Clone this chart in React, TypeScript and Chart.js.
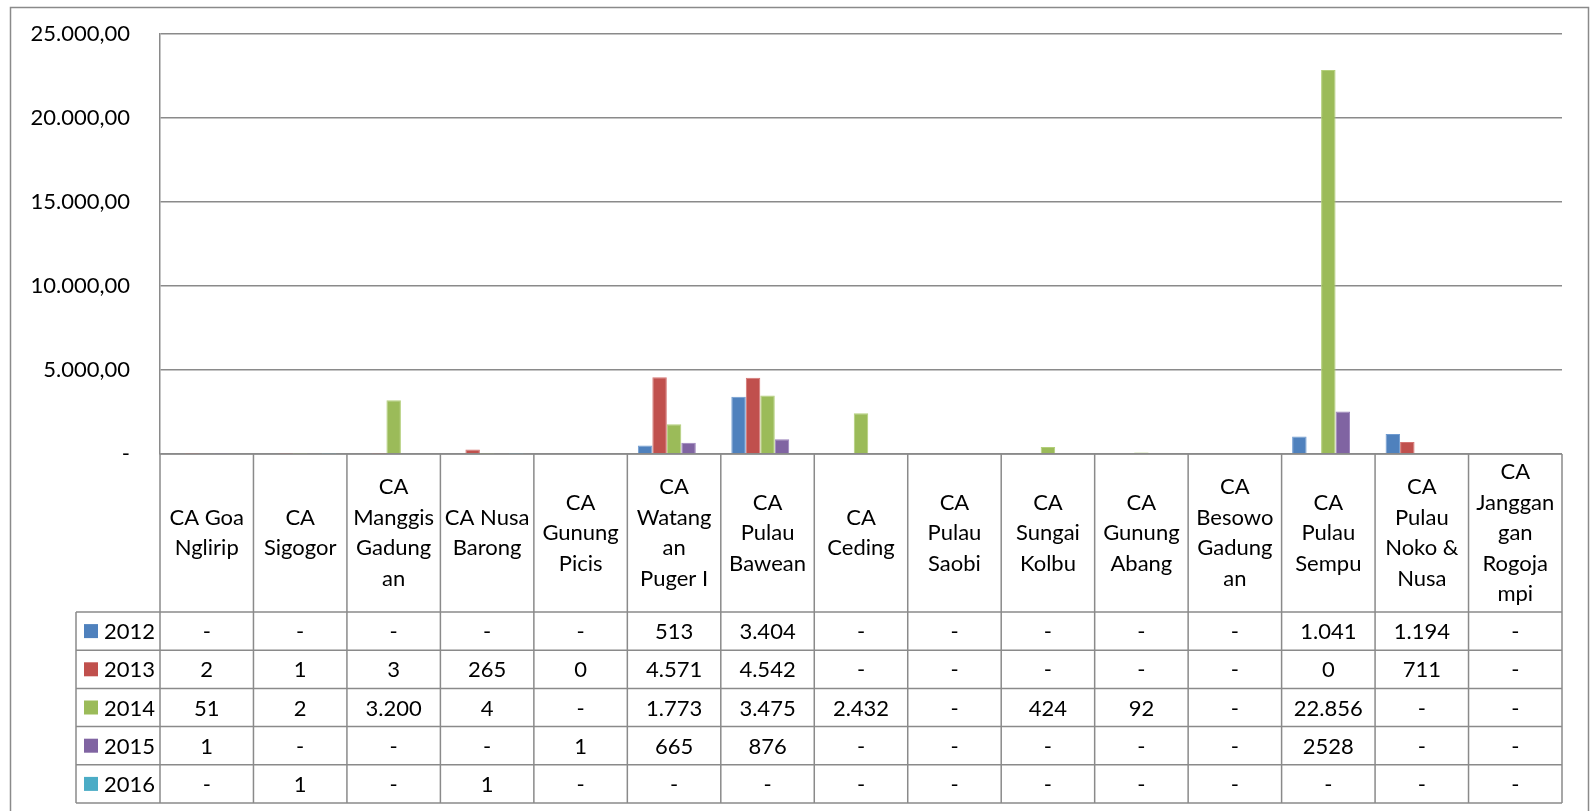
import React, { useEffect, useRef } from "react";
import { Chart, registerables } from "chart.js";

Chart.register(...registerables);

const FONT = "Lato, 'Open Sans', sans-serif";

const categories: string[][] = [
  ["CA Goa", "Nglirip"],
  ["CA", "Sigogor"],
  ["CA", "Manggis", "Gadung", "an"],
  ["CA Nusa", "Barong"],
  ["CA", "Gunung", "Picis"],
  ["CA", "Watang", "an", "Puger I"],
  ["CA", "Pulau", "Bawean"],
  ["CA", "Ceding"],
  ["CA", "Pulau", "Saobi"],
  ["CA", "Sungai", "Kolbu"],
  ["CA", "Gunung", "Abang"],
  ["CA", "Besowo", "Gadung", "an"],
  ["CA", "Pulau", "Sempu"],
  ["CA", "Pulau", "Noko &", "Nusa"],
  ["CA", "Janggan", "gan", "Rogoja", "mpi"],
];

const years = ["2012", "2013", "2014", "2015", "2016"];
const colors = ["#4F81BD", "#C0504D", "#9BBB59", "#8064A2", "#4BACC6"];
const borders = ["#6f9bd0", "#d47472", "#b3cf7a", "#9a82bb", "#70c3da"];

const v2012 = [null, null, null, null, null, 513, 3404, null, null, null, null, null, 1041, 1194, null];
const v2013 = [2, 1, 3, 265, 0, 4571, 4542, null, null, null, null, null, 0, 711, null];
const v2014 = [51, 2, 3200, 4, null, 1773, 3475, 2432, null, 424, 92, null, 22856, null, null];
const v2015 = [1, null, null, null, 1, 665, 876, null, null, null, null, null, 2528, null, null];
const v2016 = [null, 1, null, 1, null, null, null, null, null, null, null, null, null, null, null];

const t2012 = ["-", "-", "-", "-", "-", "513", "3.404", "-", "-", "-", "-", "-", "1.041", "1.194", "-"];
const t2013 = ["2", "1", "3", "265", "0", "4.571", "4.542", "-", "-", "-", "-", "-", "0", "711", "-"];
const t2014 = ["51", "2", "3.200", "4", "-", "1.773", "3.475", "2.432", "-", "424", "92", "-", "22.856", "-", "-"];
const t2015 = ["1", "-", "-", "-", "1", "665", "876", "-", "-", "-", "-", "-", "2528", "-", "-"];
const t2016 = ["-", "1", "-", "1", "-", "-", "-", "-", "-", "-", "-", "-", "-", "-", "-"];

const yTicks = [0, 5000, 10000, 15000, 20000, 25000];
const yTickLabels = ["-", "5.000,00", "10.000,00", "15.000,00", "20.000,00", "25.000,00"];

const seriesValues = [v2012, v2013, v2014, v2015, v2016];
const seriesTexts = [t2012, t2013, t2014, t2015, t2016];

const LINE = "#8a8a8a";
const FONT_SIZE = 22;
const ROW_H = 38.2;
const HEADER_BOTTOM = 612;
const LEGEND_LEFT = 76;

const tablePlugin = {
  id: "dataTable",
  beforeDraw(chart: any) {
    const ctx = chart.ctx;
    ctx.save();
    ctx.fillStyle = "#ffffff";
    ctx.fillRect(0, 0, chart.width, chart.height);
    ctx.restore();
  },
  afterDraw(chart: any) {
    const ctx = chart.ctx;
    const area = chart.chartArea;
    const xs = chart.scales.x;
    const n = categories.length;
    const colW = (area.right - area.left) / n;
    const top = area.bottom;
    const bottom = HEADER_BOTTOM + ROW_H * years.length;

    ctx.save();
    ctx.strokeStyle = LINE;
    ctx.lineWidth = 1.5;

    // outer border
    ctx.strokeRect(10.5, 7.5, 1578, 820);

    // vertical lines
    for (let i = 0; i <= n; i++) {
      const x = i < n ? xs.getPixelForValue(i) - colW / 2 : xs.getPixelForValue(n - 1) + colW / 2;
      ctx.beginPath();
      ctx.moveTo(x, top);
      ctx.lineTo(x, bottom);
      ctx.stroke();
    }
    ctx.beginPath();
    ctx.moveTo(LEGEND_LEFT, HEADER_BOTTOM);
    ctx.lineTo(LEGEND_LEFT, bottom);
    ctx.stroke();

    // horizontal lines
    ctx.beginPath();
    ctx.moveTo(area.left, top);
    ctx.lineTo(area.right, top);
    ctx.stroke();
    for (let r = 0; r <= years.length; r++) {
      const y = HEADER_BOTTOM + r * ROW_H;
      ctx.beginPath();
      ctx.moveTo(LEGEND_LEFT, y);
      ctx.lineTo(area.right, y);
      ctx.stroke();
    }

    // header text
    ctx.fillStyle = "#000";
    ctx.font = `${FONT_SIZE}px ${FONT}`;
    ctx.textAlign = "center";
    ctx.textBaseline = "middle";
    const lh = 30.5;
    const hc = (top + HEADER_BOTTOM) / 2;
    categories.forEach((lines, i) => {
      const cx = xs.getPixelForValue(i);
      const start = hc - ((lines.length - 1) * lh) / 2;
      lines.forEach((ln, k) => ctx.fillText(ln, cx, start + k * lh));
    });

    // rows
    years.forEach((yr, r) => {
      const cy = HEADER_BOTTOM + r * ROW_H + ROW_H / 2;
      ctx.fillStyle = colors[r];
      ctx.fillRect(84, cy - 7, 14, 14);
      ctx.fillStyle = "#000";
      ctx.textAlign = "left";
      ctx.fillText(yr, 104, cy + 1);
      ctx.textAlign = "center";
      seriesTexts[r].forEach((t, i) => {
        ctx.fillText(t, xs.getPixelForValue(i), cy + 1);
      });
    });
    ctx.restore();
  },
};

export default function App() {
  const ref = useRef<HTMLCanvasElement | null>(null);
  useEffect(() => {
    if (!ref.current) return;
    const chart = new Chart(ref.current, {
      type: "bar",
      data: {
        labels: categories,
        datasets: years.map((y, i) => ({
          label: y,
          data: seriesValues[i],
          backgroundColor: colors[i],
          borderColor: borders[i],
          borderWidth: 1,
          categoryPercentage: 0.775,
          barPercentage: 1,
        })),
      },
      options: {
        responsive: false,
        animation: false,
        layout: { padding: { left: 10, top: 34, right: 28, bottom: 357 } },
        plugins: { legend: { display: false }, tooltip: { enabled: false } },
        scales: {
          x: { display: false },
          y: {
            min: 0,
            max: 25000,
            afterFit: (s: any) => {
              s.width = 150;
              s.paddingTop = 0;
              s.paddingBottom = 0;
            },
            afterBuildTicks: (s: any) => {
              s.ticks = yTicks.map((v) => ({ value: v }));
            },
            ticks: {
              padding: 30,
              color: "#000",
              font: { family: FONT, size: FONT_SIZE },
              callback: (v: any) => yTickLabels[yTicks.indexOf(Number(v))] ?? "",
            },
            grid: { color: LINE, lineWidth: 1.5, drawTicks: false },
            border: { display: true, color: LINE, width: 1.5 },
          },
        },
      },
      plugins: [tablePlugin],
    });
    return () => chart.destroy();
  }, []);
  return (
    <div style={{ position: "absolute", left: 0, top: 0, width: 1590, height: 811 }}>
      <canvas ref={ref} width={1590} height={811} style={{ width: 1590, height: 811 }} />
    </div>
  );
}
